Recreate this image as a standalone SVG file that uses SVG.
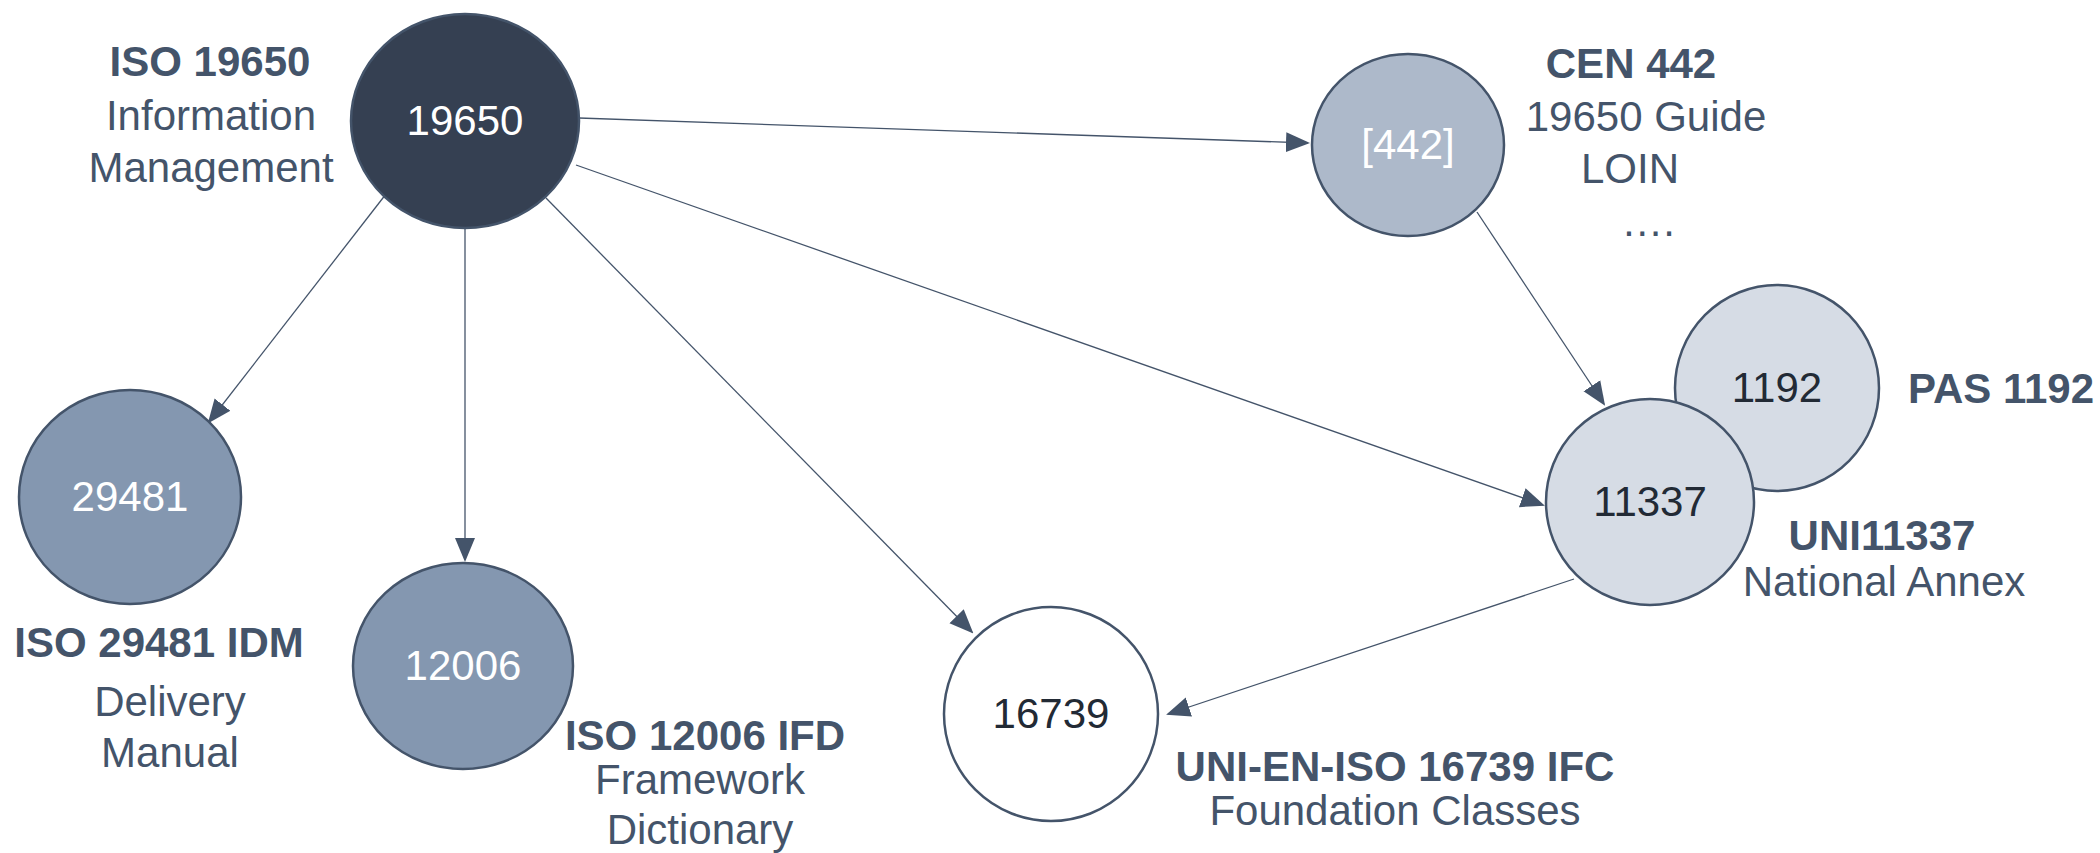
<svg xmlns="http://www.w3.org/2000/svg" width="2100" height="853" viewBox="0 0 2100 853">
<style>
text{font-family:"Liberation Sans",Arial,sans-serif;font-size:42px;text-anchor:middle}
.b{font-weight:bold;fill:#44546a}
.n{fill:#44546a}
.w{fill:#ffffff}
.d{fill:#222a35}
.c{stroke:#44546a;stroke-width:2.5}
.e{stroke:#44546a;stroke-width:1.3;fill:none;marker-end:url(#ah)}
</style>
<defs>
<marker id="ah" markerWidth="24" markerHeight="24" refX="22" refY="10" orient="auto" markerUnits="userSpaceOnUse" viewBox="0 0 24 20">
<path d="M0,0 L24,10 L0,20 z" fill="#44546a"/>
</marker>
</defs>
<g id="connectors">
<line class="e" x1="579" y1="118" x2="1308" y2="143"/>
<line class="e" x1="386" y1="194" x2="209" y2="422"/>
<line class="e" x1="465" y1="228" x2="465" y2="560"/>
<line class="e" x1="546" y1="198" x2="972" y2="632"/>
<line class="e" x1="576" y1="165" x2="1543" y2="505"/>
<line class="e" x1="1477" y1="212" x2="1604" y2="404"/>
<line class="e" x1="1574" y1="579" x2="1168" y2="714"/>
</g>
<g id="n19650">
<ellipse class="c" cx="465" cy="121" rx="114" ry="107" fill="#354052"/>
<text class="w" x="465" y="135">19650</text>
<text class="b" x="210" y="76">ISO 19650</text>
<text class="n" x="211" y="130">Information</text>
<text class="n" x="211" y="182">Management</text>
</g>
<g id="n442">
<ellipse class="c" cx="1408" cy="145" rx="96" ry="91" fill="#adb9ca"/>
<text class="w" x="1408" y="159">[442]</text>
<text class="b" x="1631" y="78">CEN 442</text>
<text class="n" x="1646" y="131">19650 Guide</text>
<text class="n" x="1630" y="183">LOIN</text>
<text class="n" x="1648" y="236">….</text>
</g>
<g id="n1192">
<ellipse class="c" cx="1777" cy="388" rx="102" ry="103" fill="#d6dce5"/>
<text class="d" x="1777" y="402">1192</text>
<text class="b" x="1908" y="403" style="text-anchor:start">PAS 1192</text>
</g>
<g id="n11337">
<ellipse class="c" cx="1650" cy="502" rx="104" ry="103" fill="#d6dce5"/>
<text class="d" x="1650" y="516">11337</text>
<text class="b" x="1882" y="550">UNI11337</text>
<text class="n" x="1884" y="596">National Annex</text>
</g>
<g id="n29481">
<ellipse class="c" cx="130" cy="497" rx="111" ry="107" fill="#8497b0"/>
<text class="w" x="130" y="511">29481</text>
<text class="b" x="159" y="657">ISO 29481 IDM</text>
<text class="n" x="170" y="716">Delivery</text>
<text class="n" x="170" y="767">Manual</text>
</g>
<g id="n12006">
<ellipse class="c" cx="463" cy="666" rx="110" ry="103" fill="#8497b0"/>
<text class="w" x="463" y="680">12006</text>
<text class="b" x="705" y="750">ISO 12006 IFD</text>
<text class="n" x="700" y="794">Framework</text>
<text class="n" x="700" y="844">Dictionary</text>
</g>
<g id="n16739">
<ellipse class="c" cx="1051" cy="714" rx="107" ry="107" fill="#ffffff"/>
<text class="d" x="1051" y="728">16739</text>
<text class="b" x="1395" y="781">UNI-EN-ISO 16739 IFC</text>
<text class="n" x="1395" y="825">Foundation Classes</text>
</g>
</svg>
